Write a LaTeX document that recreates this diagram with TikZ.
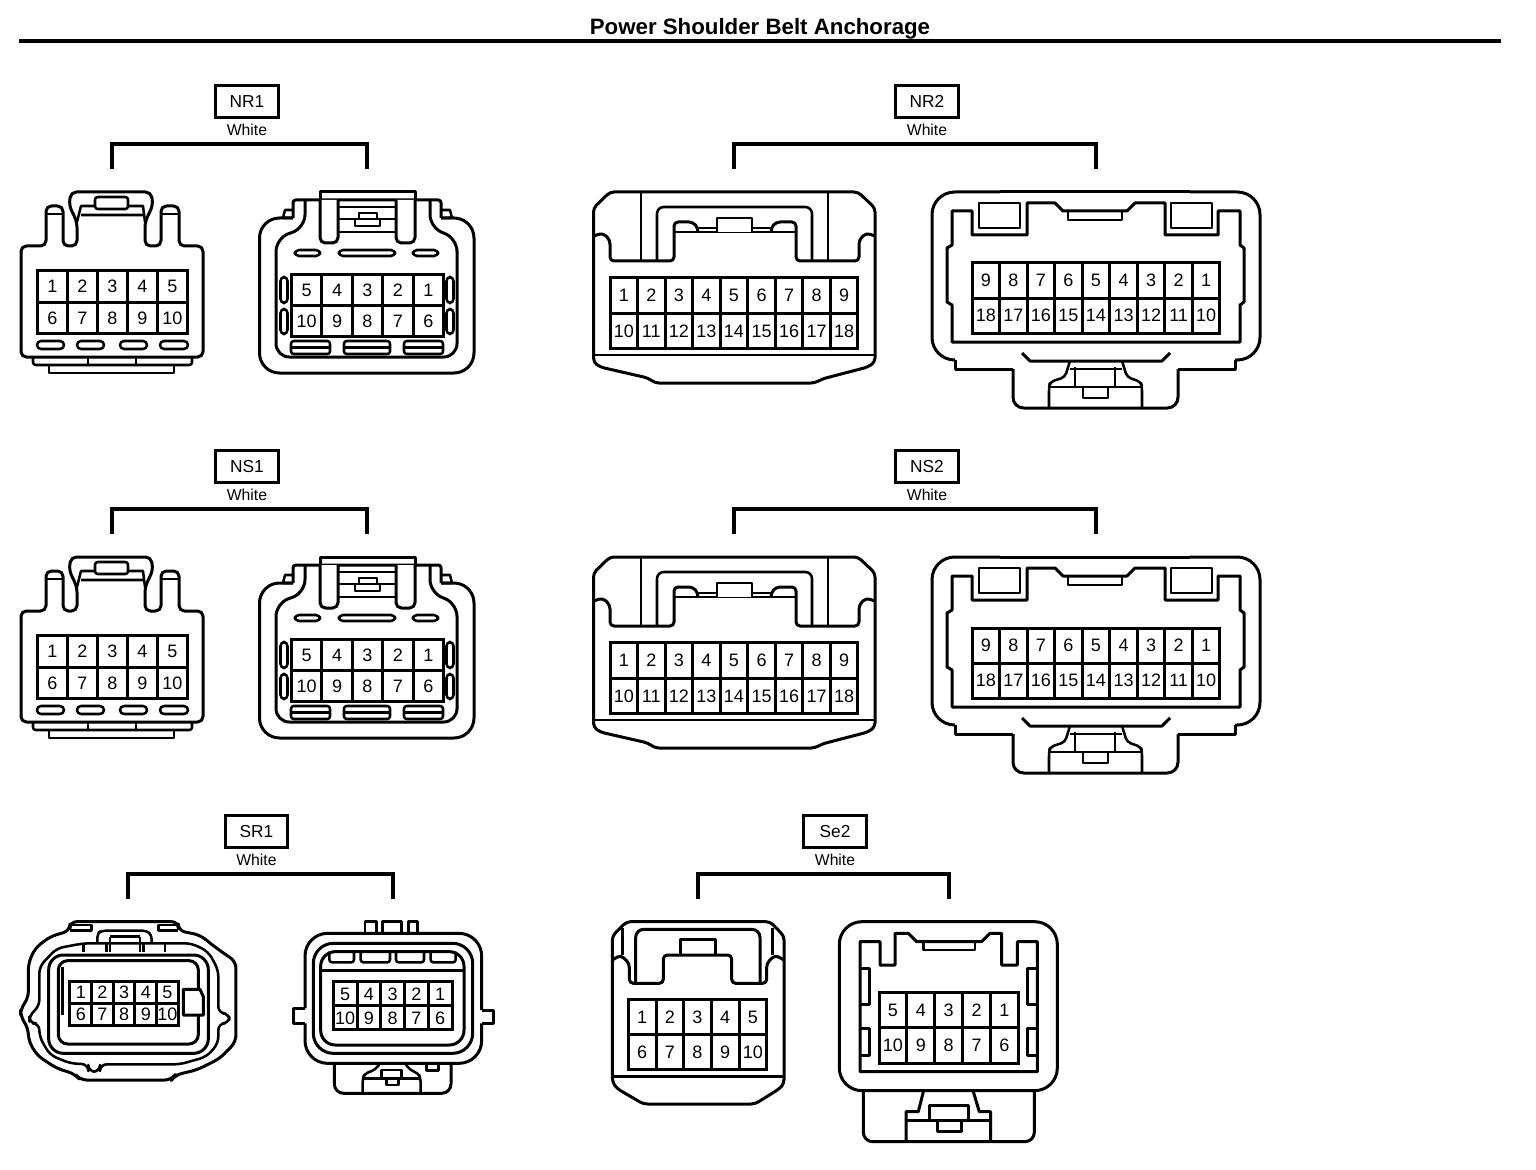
\documentclass[tikz,border=0pt]{standalone}
\usepackage{fontspec}
\setmainfont{Liberation Sans}
\tikzset{
  outline/.style={line width=2.25pt, line join=round},
  detail/.style={line width=1.9pt, line join=round},
  pinline/.style={line width=2.25pt, line join=miter},
  pinlabel/.style={inner sep=0pt, text height=9.6pt, text depth=0pt, font=\fontsize{13.5}{14}\selectfont},
  tagbox/.style={draw, line width=2.25pt, minimum width=47pt, minimum height=23.5pt, inner sep=0pt, text height=9.3pt, text depth=0pt, font=\fontsize{13}{14}\selectfont},
  colourlabel/.style={inner sep=0pt, font=\fontsize{11.8}{12}\selectfont},
  bracket/.style={line width=2.4pt, line join=miter}
}
% one cell per pin: name, corner x, corner y, cell w, cell h, pins in a row, labels
\newcommand{\pingrid}[7]{
  \foreach \t [count=\i from 0] in {#7} {
    \pgfmathtruncatemacro\col{mod(\i,#6)}
    \pgfmathtruncatemacro\row{div(\i,#6)}
    \draw[pinline] ({#2+\col*#4},{#3+\row*#5}) rectangle +(#4,#5);
    \node[pinlabel] (#1-\t) at ({#2+(\col+.5)*#4},{#3+(\row+.5)*#5}) {\t};
  }
}
% tag, colour and bracket: name, text, tag x, tag y, left end, right end
\newcommand{\tagbracket}[6]{
  \node[tagbox] (#1) at (#3,#4) {#2};
  \node[colourlabel] (#1w) at (#3,#4+28) {White};
  \coordinate (#1l) at (#5,#4+67.5);
  \coordinate (#1r) at (#6,#4+67.5);
  \draw[bracket] (#1l) -- ++(0,-25) -| (#1r);
}
% white 10 pin plug
\newcommand{\plugA}[2]{
\begin{scope}[shift={(0,#2)}]
\draw[outline,rounded corners=4pt] (46,246) -- (46,206) -- (63,206) -- (63,246) -- (77,246) -- (77,222) -- (69,205) -- (71,192) -- (151,192) -- (153,205) -- (145,222) -- (145,246) -- (161,246) -- (161,206) -- (179,206) -- (179,246) -- (203,246) -- (203,357) -- (21,357) -- (21,246) -- cycle;
\draw[detail] (46,214) -- (63,214) (161,214) -- (179,214);
\draw[detail] (77,222) -- (81,206) -- (143,206) -- (145,222) (81,215) -- (143,215);
\draw[detail,fill=white,rounded corners=2pt] (95,197) rectangle (128,209);
\foreach \a/\b in {37/64,77/104,120/147,160/188}
  \draw[detail,rounded corners=3pt] (\a,341) rectangle (\b,349);
\draw[detail,rounded corners=2pt] (33,357) -- (33,365) -- (192,365) -- (192,357);
\draw[detail] (88,357) -- (88,365) (136,357) -- (136,365);
\draw[detail] (49,365) rectangle (174,373);
\pingrid{#1}{37.5}{270.5}{30}{31.5}{5}{1,2,3,4,5,6,7,8,9,10}
\end{scope}
}
% white 10 pin socket
\newcommand{\plugB}[2]{
\begin{scope}[shift={(0,#2)}]
\draw[outline,rounded corners=15pt] (293,218) -- (259.5,218) -- (259.5,373) -- (474,373) -- (474,218) -- (441,218);
\draw[outline,rounded corners=2pt] (293,218) -- (293,200) -- (441,200) -- (441,218);
\draw[outline] (320,200) -- (320,192) -- (415,192) -- (415,200);
\draw[detail] (293,218) -- (283,218) -- (285,210) -- (293,210) (441,210) -- (450,210) -- (452,218) -- (441,218);
\draw[outline,rounded corners=10pt] (305,200) -- (305,228) -- (276,238) -- (276,357) -- (457,357) -- (457,238) -- (430,228) -- (430,200);
\draw[outline,fill=white,rounded corners=4pt] (320,200) -- (320,243) -- (338,243) -- (338,200);
\draw[outline,fill=white,rounded corners=4pt] (396,200) -- (396,243) -- (415,243) -- (415,200);
\draw[detail] (338,207) -- (396,207) (338,232) -- (396,232) (338,219) -- (396,219);
\draw[detail,fill=white] (359,213) rectangle (377,219);
\draw[detail,fill=white] (355,219) rectangle (380,226);
\foreach \a/\b in {295/320,339/395,413/438}
  \draw[detail,rounded corners=3pt] (\a,250) rectangle (\b,256);
\foreach \a in {284,450} {
  \draw[detail,rounded corners=3pt] (\a-3.5,277) rectangle (\a+3.5,303);
  \draw[detail,rounded corners=3pt] (\a-3.5,309) rectangle (\a+3.5,334);
}
\foreach \a/\b in {291/330,344/390,404/443} {
  \draw[detail,rounded corners=2pt] (\a,341) rectangle (\b,354);
  \draw[detail] (\a,347.5) -- (\b,347.5);
}
\pingrid{#1}{291.5}{274.5}{30.4}{31}{5}{5,4,3,2,1,10,9,8,7,6}
\end{scope}
}
% white 18 pin plug
\newcommand{\plugC}[2]{
\begin{scope}[shift={(0,#2)}]
\draw[outline,rounded corners=3pt] (610,192) -- (858,192) -- (875,208) -- (875,362) -- (868,367) -- (822,379) -- (815,383) -- (655,383) -- (648,378) -- (600,367) -- (593.5,362) -- (593.5,208) -- cycle;
\draw[detail] (593.5,355) -- (875,355);
\draw[outline,rounded corners=3pt] (593.5,236) -- (603,233) -- (610,240) -- (610,261) -- (674,261) -- (674,222) -- (693,222) -- (698,228) -- (698,232);
\draw[outline,rounded corners=3pt] (875,236) -- (866,233) -- (859,240) -- (859,261) -- (796,261) -- (796,222) -- (776,222) -- (771,228) -- (771,232);
\draw[detail] (674,232) -- (796,232) (698,228) -- (771,228);
\draw[detail,fill=white] (717,232) -- (717,218) -- (752,218) -- (752,232);
\draw[detail] (641,261) -- (641,192) (828,192) -- (828,261);
\draw[detail,rounded corners=5pt] (657,261) -- (657,207) -- (812,207) -- (812,261);
\pingrid{#1}{610}{277.5}{27.55}{35.5}{9}{1,2,3,4,5,6,7,8,9,10,11,12,13,14,15,16,17,18}
\end{scope}
}
% white 18 pin socket
\newcommand{\plugD}[2]{
\begin{scope}[shift={(0,#2)}]
\draw[outline,rounded corners=17pt] (1000,192) -- (932,192) -- (932,360) -- (955,360);
\draw[outline,rounded corners=17pt] (1190,192) -- (1260,192) -- (1260,360) -- (1235,360);
\draw[outline] (1000,192) -- (1190,192);
\draw[outline] (955,360) -- (955,369) -- (1013,369) (1235,360) -- (1235,369) -- (1178,369);
\draw[outline,rounded corners=8pt] (1013,369) -- (1013,408) -- (1178,408) -- (1178,369);
\draw[outline] (1022,353) -- (1030,361) -- (1162,361) -- (1170,353);
\draw[outline] (952,342) -- (952,305) -- (947,302) -- (947,248) -- (952,245) -- (952,211) -- (972,211) -- (972,235) -- (1027,235) -- (1027,203) -- (1055,203) -- (1063,211) -- (1127,211) -- (1135,203) -- (1165,203) -- (1165,235) -- (1218,235) -- (1218,211) -- (1240,211) -- (1240,245) -- (1244,248) -- (1244,302) -- (1240,305) -- (1240,342) -- cycle;
\draw[detail] (1068,211) -- (1068,220) -- (1122,220) -- (1122,211);
\draw[detail] (979,203) rectangle (1020,228) (1171,203) rectangle (1212,228);
\draw[detail,rounded corners=3pt] (1070,361) -- (1065,377) -- (1050,382) -- (1049,387) -- (1049,408);
\draw[detail,rounded corners=3pt] (1122,361) -- (1127,377) -- (1141,382) -- (1142,387) -- (1142,408);
\draw[detail] (1049,387) -- (1142,387) (1075,367) -- (1075,387) (1115,367) -- (1115,387) (1070,369) -- (1122,369);
\draw[detail] (1083,387) -- (1083,398) -- (1108,398) -- (1108,387);
\pingrid{#1}{972}{263}{27.55}{35}{9}{9,8,7,6,5,4,3,2,1,18,17,16,15,14,13,12,11,10}
\end{scope}
}
\begin{document}
\begin{tikzpicture}[x=.75pt,y=-.75pt]
\path[use as bounding box,fill=white] (0,0) rectangle (1536,1170);
\node[inner sep=0pt, font=\bfseries\fontsize{16.7}{18}\selectfont] (title) at (760,29) {Power Shoulder Belt Anchorage};
\coordinate (rulel) at (19,41);
\coordinate (ruler) at (1501,41);
\draw[line width=3.2pt] (rulel) -- (ruler);

\tagbracket{nra}{NR1}{247}{101.5}{112}{367}
\tagbracket{nrb}{NR2}{927}{101.5}{734}{1096}
\tagbracket{nsa}{NS1}{247}{466.5}{112}{367}
\tagbracket{nsb}{NS2}{927}{466.5}{734}{1096}
\tagbracket{sra}{SR1}{256.5}{831.5}{128}{393}
\tagbracket{seb}{Se2}{835}{831.5}{698}{949}

\plugA{nralp}{0}
\plugB{nrarp}{0}
\plugC{nrblp}{0}
\plugD{nrbrp}{0}
\plugA{nsalp}{365}
\plugB{nsarp}{365}
\plugC{nsblp}{365}
\plugD{nsbrp}{365}

% SR1 left
\begin{scope}[shift={(0,900)},scale=1/3]
\draw[outline,rounded corners=5pt] (210,92) -- (210,65) -- (535,65) -- (535,92) -- (600,105) -- (650,145) -- (708,185) -- (708,425) -- (660,475) -- (590,510) -- (525,525) -- (515,540) -- (240,540) -- (225,522) -- (170,505) -- (110,465) -- (85,420) -- (85,385) -- (62,350) -- (62,325) -- (85,295) -- (85,190) -- (105,145) -- (150,110) -- cycle;
\draw[detail,rounded corners=5pt] (118,200) -- (118,320) -- (88,345) -- (88,370) -- (118,370) -- (118,410) -- (150,465) -- (210,490) -- (265,493) -- (265,515) -- (300,515) -- (300,493) -- (540,493) -- (620,470) -- (655,430) -- (655,370) -- (688,370) -- (688,340) -- (655,340) -- (655,210) -- (625,155) -- (575,130) -- (250,130) -- (170,145) -- cycle;
\draw[outline,rounded corners=11pt] (146,165) rectangle (625,460);
\draw[outline,rounded corners=7pt] (175,182) rectangle (595,432);
\draw[detail] (188,200) -- (188,345);
\draw[outline,fill=white] (550,345) -- (550,268) -- (600,268) -- (610,290) -- (610,345) -- cycle;
\draw[detail] (210,92) -- (275,92) -- (275,75) -- (210,75) (535,92) -- (475,92) -- (475,75) -- (535,75);
\draw[detail,rounded corners=3pt] (292,130) -- (292,100) -- (305,92) -- (440,92) -- (455,105) -- (455,130);
\draw[detail] (330,110) -- (420,110) (250,155) -- (250,130) (495,155) -- (495,130);
\draw[detail] (320,130) -- (320,155) (330,110) -- (330,155) (420,110) -- (420,155) (430,130) -- (430,155);
\pingrid{sralp}{210}{243}{65}{66}{5}{1,2,3,4,5,6,7,8,9,10}
\end{scope}

% SR1 right
\begin{scope}[shift={(280,900)},scale=1/3]
\draw[outline,rounded corners=17pt] (75,325) -- (75,100) -- (605,100) -- (605,330);
\draw[outline,rounded corners=17pt] (605,370) -- (605,490) -- (75,490) -- (75,370);
\draw[outline] (75,325) -- (40,325) -- (40,370) -- (75,370) (605,330) -- (640,330) -- (640,370) -- (605,370);
\draw[outline,rounded corners=15pt] (100,130) rectangle (578,460);
\draw[outline,rounded corners=11pt] (122,155) rectangle (552,435);
\draw[outline] (122,210) -- (552,210);
\draw[detail] (255,100) -- (255,65) -- (290,65) -- (290,100) (307,100) -- (307,65) -- (365,65) -- (365,100) (385,100) -- (385,65) -- (413,65) -- (413,100);
\foreach \a/\b in {148/222,242/330,348/432,452/527}
  \draw[detail,rounded corners=2pt] (\a,155) -- (\a,187) -- (\b,187) -- (\b,155);
\draw[outline,rounded corners=7pt] (163,490) -- (163,580) -- (513,580) -- (513,490);
\draw[detail] (440,490) -- (440,512) -- (475,512) -- (475,490);
\draw[detail,rounded corners=3pt] (300,490) -- (285,510) -- (255,520) -- (248,535) -- (248,580);
\draw[detail,rounded corners=3pt] (375,490) -- (390,510) -- (415,520) -- (422,535) -- (422,580);
\draw[detail] (248,535) -- (422,535) (305,535) -- (305,510) -- (365,510) -- (365,535) (320,535) -- (320,555) -- (355,555) -- (355,535);
\pingrid{srarp}{160}{245}{71.2}{72}{5}{5,4,3,2,1,10,9,8,7,6}
\end{scope}

% Se2 left
\begin{scope}[shift={(600,900)},scale=1/3]
\draw[outline,rounded corners=3pt] (80,65) -- (510,65) -- (552,108) -- (552,550) -- (540,565) -- (465,612) -- (130,612) -- (50,565) -- (37,545) -- (37,108) -- cycle;
\draw[detail] (37,530) -- (552,530) (67,85) -- (67,165) (517,85) -- (517,165);
\draw[outline,rounded corners=6pt] (107,250) -- (107,88) -- (480,88) -- (480,250);
\draw[outline,rounded corners=3pt] (37,180) -- (62,165) -- (88,190) -- (88,250) -- (190,250) -- (190,165) -- (395,165) -- (395,250) -- (500,250) -- (500,190) -- (525,165) -- (552,180);
\draw[outline] (240,165) -- (240,118) -- (345,118) -- (345,165);
\pingrid{seblp}{85}{298}{83}{105}{5}{1,2,3,4,5,6,7,8,9,10}
\end{scope}

% Se2 right
\begin{scope}[shift={(600,900)},scale=1/3]
\draw[outline,rounded corners=17pt] (718,65) rectangle (1372,572);
\draw[outline,rounded corners=7pt] (790,575) -- (790,725) -- (1303,725) -- (1303,575);
\draw[outline] (780,515) -- (780,125) -- (840,125) -- (840,195) -- (885,195) -- (885,100) -- (925,100) -- (950,125) -- (1145,125) -- (1170,100) -- (1205,100) -- (1205,195) -- (1252,195) -- (1252,125) -- (1312,125) -- (1312,515) -- cycle;
\draw[detail] (970,125) -- (970,150) -- (1125,150) -- (1125,125);
\draw[outline] (780,205) -- (808,205) -- (808,312) -- (780,312) (780,385) -- (808,385) -- (808,465) -- (780,465);
\draw[outline] (1312,205) -- (1283,205) -- (1283,312) -- (1312,312) (1312,385) -- (1283,385) -- (1283,465) -- (1312,465);
\draw[outline] (970,575) -- (955,635) -- (918,635) -- (918,725) (1120,575) -- (1138,635) -- (1172,635) -- (1172,725);
\draw[outline] (918,660) -- (1172,660) (988,660) -- (988,615) -- (1105,615) -- (1105,660) (1012,660) -- (1012,695) -- (1085,695) -- (1085,660);
\pingrid{sebrp}{837}{277}{83.6}{106.5}{5}{5,4,3,2,1,10,9,8,7,6}
\end{scope}
\end{tikzpicture}
\end{document}
